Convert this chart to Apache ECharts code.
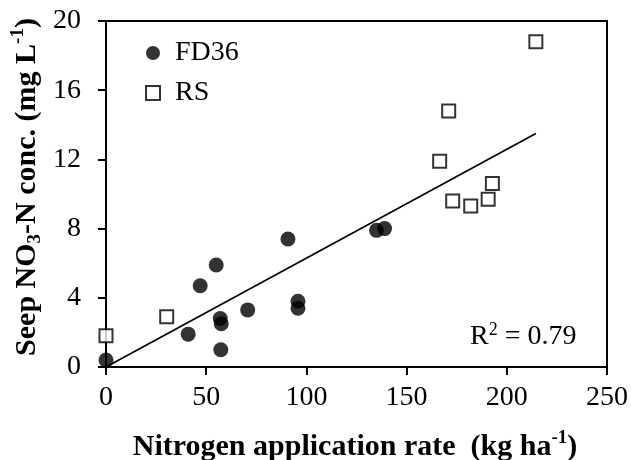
<!DOCTYPE html>
<html>
<head>
<meta charset="utf-8">
<script src="https://cdn.jsdelivr.net/npm/echarts@6/dist/echarts.min.js"></script>
<style>
  html, body { margin: 0; padding: 0; background: #fff; }
  #chart { width: 631px; height: 460px; }
</style>
</head>
<body>
<div id="chart"></div>
<script>
// FD36 observations: N application rate (kg/ha) vs seep NO3-N (mg/L)
const fd36X = [0, 41, 47, 55, 57, 57.5, 57.3, 70.7, 90.8, 95.8, 95.8, 135, 139];
const fd36Y = [0.4, 1.9, 4.7, 5.9, 2.8, 2.5, 1.0, 3.3, 7.4, 3.8, 3.4, 7.9, 8.0];

// RS observations
const rsX = [0, 30.3, 166.5, 171, 173, 182, 190.7, 192.8, 214.5];
const rsY = [1.8, 2.9, 11.9, 14.8, 9.6, 9.3, 9.7, 10.6, 18.8];

// Fitted trend line end points
const trendX = [0, 214.5];
const trendY = [0, 13.5];
const r2Text = '0.79';

// Axis ticks
const xTicks = { min: 0, max: 250, step: 50 };
const yTicks = { min: 0, max: 20, step: 4 };

const FONT = '"Liberation Serif", "Times New Roman", serif';

const zip = (xs, ys) => xs.map((x, i) => [x, ys[i]]);

const chart = echarts.init(document.getElementById('chart'), null, { renderer: 'canvas' });

const titleRich = {
  b:   { fontFamily: FONT, fontSize: 30, fontWeight: 'bold', color: '#000', lineHeight: 36 },
  sub: { fontFamily: FONT, fontSize: 19, fontWeight: 'bold', color: '#000', lineHeight: 19, verticalAlign: 'bottom' },
  sup: { fontFamily: FONT, fontSize: 19, fontWeight: 'bold', color: '#000', lineHeight: 19, verticalAlign: 'top' }
};

chart.setOption({
  animation: false,
  backgroundColor: '#fff',
  grid: {
    left: 106, right: 24, top: 21, bottom: 93,
    show: true, borderColor: '#000', borderWidth: 2, backgroundColor: 'transparent'
  },
  legend: {
    orient: 'vertical',
    left: 140, top: 34,
    itemGap: 12,
    itemWidth: 14, itemHeight: 14,
    textStyle: { fontFamily: FONT, fontSize: 28, color: '#000', lineHeight: 28, padding: [0, 0, 0, 10] },
    data: [
      { name: 'FD36', icon: 'circle', itemStyle: { color: '#000', borderWidth: 0 } },
      { name: 'RS', icon: 'rect', itemStyle: { color: '#fff', borderColor: '#000', borderWidth: 2 } }
    ]
  },
  xAxis: {
    type: 'value',
    min: xTicks.min, max: xTicks.max, interval: xTicks.step,
    splitLine: { show: false },
    axisLine: { lineStyle: { color: '#000', width: 2 } },
    axisTick: { inside: false, length: 8, lineStyle: { color: '#000', width: 2 } },
    axisLabel: { fontFamily: FONT, fontSize: 28, color: '#000', margin: 17 }
  },
  yAxis: {
    type: 'value',
    min: yTicks.min, max: yTicks.max, interval: yTicks.step,
    splitLine: { show: false },
    axisLine: { lineStyle: { color: '#000', width: 2 } },
    axisTick: { inside: false, length: 8, lineStyle: { color: '#000', width: 2 } },
    axisLabel: { fontFamily: FONT, fontSize: 28, color: '#000', margin: 25 }
  },
  series: [
    {
      name: 'Trend',
      type: 'line',
      data: zip(trendX, trendY),
      symbol: 'none',
      lineStyle: { color: '#000', width: 1.6 },
      z: 1,
      silent: true
    },
    {
      name: 'FD36',
      type: 'scatter',
      data: zip(fd36X, fd36Y),
      symbol: 'circle',
      symbolSize: 15,
      itemStyle: { color: '#000' },
      z: 3
    },
    {
      name: 'RS',
      type: 'scatter',
      data: zip(rsX, rsY),
      symbol: 'rect',
      symbolSize: 13,
      itemStyle: { color: '#fff', borderColor: '#000', borderWidth: 2 },
      z: 3
    }
  ],
  graphic: [
    // x-axis title
    {
      type: 'text',
      x: 355, y: 447,
      style: {
        text: '{b|Nitrogen application rate  (kg ha}{sup|-1}{b|)}',
        rich: titleRich,
        align: 'center',
        verticalAlign: 'middle'
      }
    },
    // y-axis title, reading bottom to top
    {
      type: 'text',
      x: 27, y: 187,
      rotation: Math.PI / 2,
      style: {
        text: '{b|Seep NO}{sub|3}{b|-N conc. (mg L}{sup|-1}{b|)}',
        rich: titleRich,
        align: 'center',
        verticalAlign: 'middle'
      }
    },
    // coefficient of determination
    {
      type: 'text',
      x: 470, y: 337,
      style: {
        text: '{t|R}{s|2}{t| = ' + r2Text + '}',
        align: 'left',
        verticalAlign: 'middle',
        rich: {
          t: { fontFamily: FONT, fontSize: 28, color: '#000', lineHeight: 32 },
          s: { fontFamily: FONT, fontSize: 18, color: '#000', lineHeight: 18, verticalAlign: 'top' }
        }
      }
    }
  ]
});
</script>
</body>
</html>
